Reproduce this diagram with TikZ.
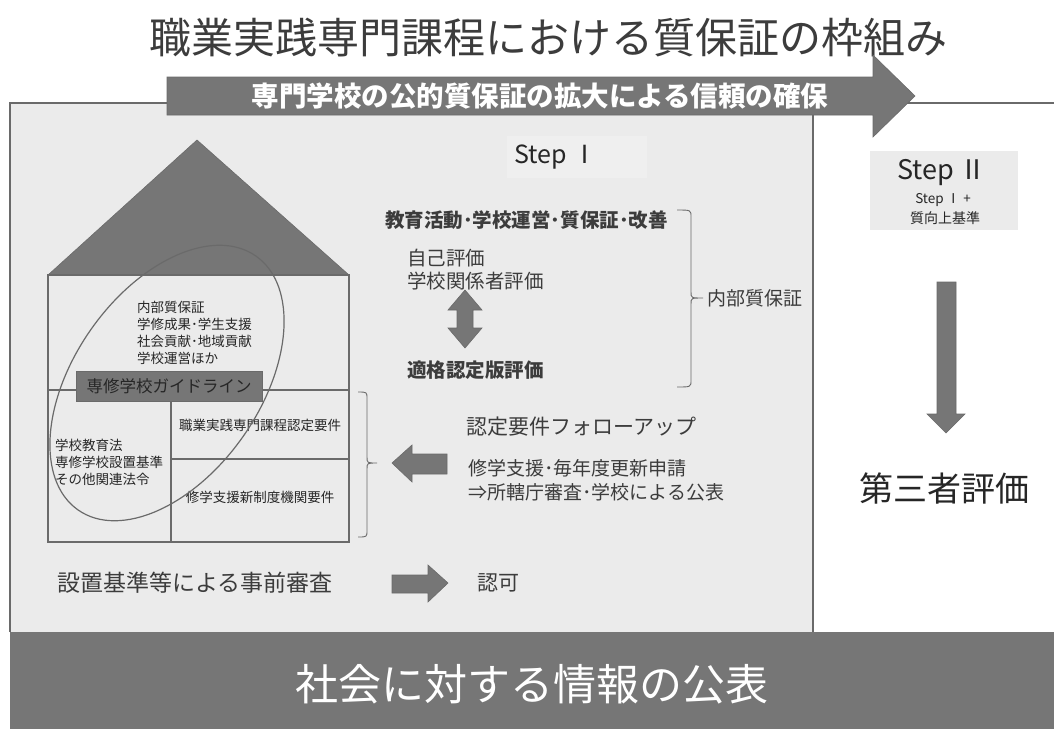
\documentclass[tikz,border=0pt]{standalone}
\usepackage{fontspec}
\setmainfont{Noto Sans CJK JP}
\definecolor{dk}{HTML}{767676}
\definecolor{pan}{HTML}{EBEBEB}
\definecolor{stepbg}{HTML}{EFEFEF}
\definecolor{ln}{HTML}{6A6A6A}
\definecolor{tx}{HTML}{3C3C3C}
\definecolor{tt}{HTML}{262626}
\newcommand\rbrc[6]{%
  \draw[brc] (#1,#4) .. controls (#2,#4) .. (#2,#4+7) -- (#2,#5-6)
    .. controls (#2,#5) .. (#3,#5) .. controls (#2,#5) .. (#2,#5+6)
    -- (#2,#6-7) .. controls (#2,#6) .. (#1,#6);}
\begin{document}
\begin{tikzpicture}[x=1pt,y=-1pt,
  lbl/.style={text=tx, inner sep=0pt},
  hs/.style={text=tt, inner sep=0pt, align=left, font=\fontsize{13.5}{17}\selectfont},
  blk/.style={fill=dk, draw=ln, line width=0.6pt},
  hline/.style={draw=ln, line width=1.4pt},
  brc/.style={draw=ln, line width=0.9pt},
  f/.style={font=\fontsize{#1}{#1}\selectfont}]
\useasboundingbox (0,0) rectangle (1054,729);
\fill[white] (0,0) rectangle (1054,729);
% panels
\fill[pan] (10,103) rectangle (813,632);
\draw[draw=ln, line width=1.2pt] (10,632) -- (10,103) -- (813,103) -- (813,632);
\draw[draw=ln, line width=1.2pt] (813,103) -- (1054,103);
% bottom band
\fill[dk] (10,632) rectangle (1054,729);
\node[inner sep=0pt, text=white, f=43] (pub) at (532,684) {社会に対する情報の公表};
% title
\node[lbl, text=tx, f=42] (title) at (548,38) {職業実践専門課程における質保証の枠組み};
% big arrow
\path[blk] (167,77) -- (873,77) -- (873,55) -- (915,96) -- (873,137) -- (873,115) -- (167,115) -- cycle;
\node[inner sep=0pt, text=white, font=\bfseries\fontsize{27.5}{27.5}\selectfont] (banner) at (540,96) {専門学校の公的質保証の拡大による信頼の確保};
% house
\path[blk] (197,140) -- (349,275) -- (48,275) -- cycle;
\draw[hline] (48,275) rectangle (349,542);
\draw[hline] (48,390) -- (349,390);
\draw[hline] (171,390) -- (171,542);
\draw[hline] (171,459) -- (349,459);
\node[fill=dk, draw=ln, line width=0.6pt, minimum width=186pt, minimum height=30pt, inner sep=0pt, text=tt, f=16.5] (guide) at (169,386) {専修学校ガイドライン};
\node[hs, anchor=west] (iq) at (137,333) {内部質保証\\学修成果･学生支援\\社会貢献･地域貢献\\学校運営ほか};
\node[hs, anchor=west] (law) at (55,462) {学校教育法\\専修学校設置基準\\その他関連法令};
\node[hs] (req1) at (260,425) {職業実践専門課程認定要件};
\node[hs] (req2) at (260,497) {修学支援新制度機関要件};
\draw[draw=ln, line width=1.2pt, rotate around={55:(167,383)}] (167,383) ellipse [x radius=155pt, y radius=93pt];
% Step I
\fill[stepbg] (507,136) rectangle (647,178);
\node[inner sep=0pt, text=tt, f=25] (s1) at (556,157) {Step Ⅰ};
\node[lbl, anchor=west, font=\bfseries\fontsize{19.5}{19.5}\selectfont] (edu) at (385,220) {教育活動･学校運営･質保証･改善};
\node[lbl, anchor=west, f=19.5] (self) at (407,258) {自己評価};
\node[lbl, anchor=west, f=19.5] (rel) at (407,281) {学校関係者評価};
\path[blk] (465,290) -- (482,310) -- (473,310) -- (473,328) -- (482,328) -- (465,348)
  -- (448,328) -- (457,328) -- (457,310) -- (448,310) -- cycle;
\node[lbl, anchor=west, font=\bfseries\fontsize{19.5}{19.5}\selectfont] (acc) at (407,370) {適格認定版評価};
\rbrc{677}{691}{703}{210}{298}{387}
\node[lbl, anchor=west, f=19] (iqa) at (707,298) {内部質保証};
% follow-up
\rbrc{358}{367}{377}{392}{463}{537}
\path[blk] (392,463) -- (412,445) -- (412,454) -- (447,454) -- (447,474) -- (412,474) -- (412,482) -- cycle;
\node[lbl, anchor=west, f=21] (fu) at (466,427) {認定要件フォローアップ};
\node[lbl, anchor=west, align=left, font=\fontsize{19}{24}\selectfont] (fu2) at (468,480) {修学支援･毎年度更新申請\\⇒所轄庁審査･学校による公表};
% approval
\node[lbl, anchor=west, f=23] (pre) at (57,583) {設置基準等による事前審査};
\path[blk] (392,575) -- (428,575) -- (428,565) -- (448,583) -- (428,602) -- (428,593) -- (392,593) -- cycle;
\node[lbl, anchor=west, f=21] (ok) at (477,583) {認可};
% Step II
\fill[pan] (870,151) rectangle (1018,230);
\node[inner sep=0pt, text=tt, f=27] (s2) at (942,173) {Step Ⅱ};
\node[inner sep=0pt, text=tt, f=13.5] (s2a) at (943,200) {Step Ⅰ +};
\node[inner sep=0pt, text=tt, f=14] (s2b) at (945,218) {質向上基準};
\path[blk] (937,282) -- (956,282) -- (956,414) -- (965,414) -- (946,433) -- (927,414) -- (937,414) -- cycle;
\node[inner sep=0pt, text=tt, f=34] (third) at (944,488) {第三者評価};
\end{tikzpicture}
\end{document}
